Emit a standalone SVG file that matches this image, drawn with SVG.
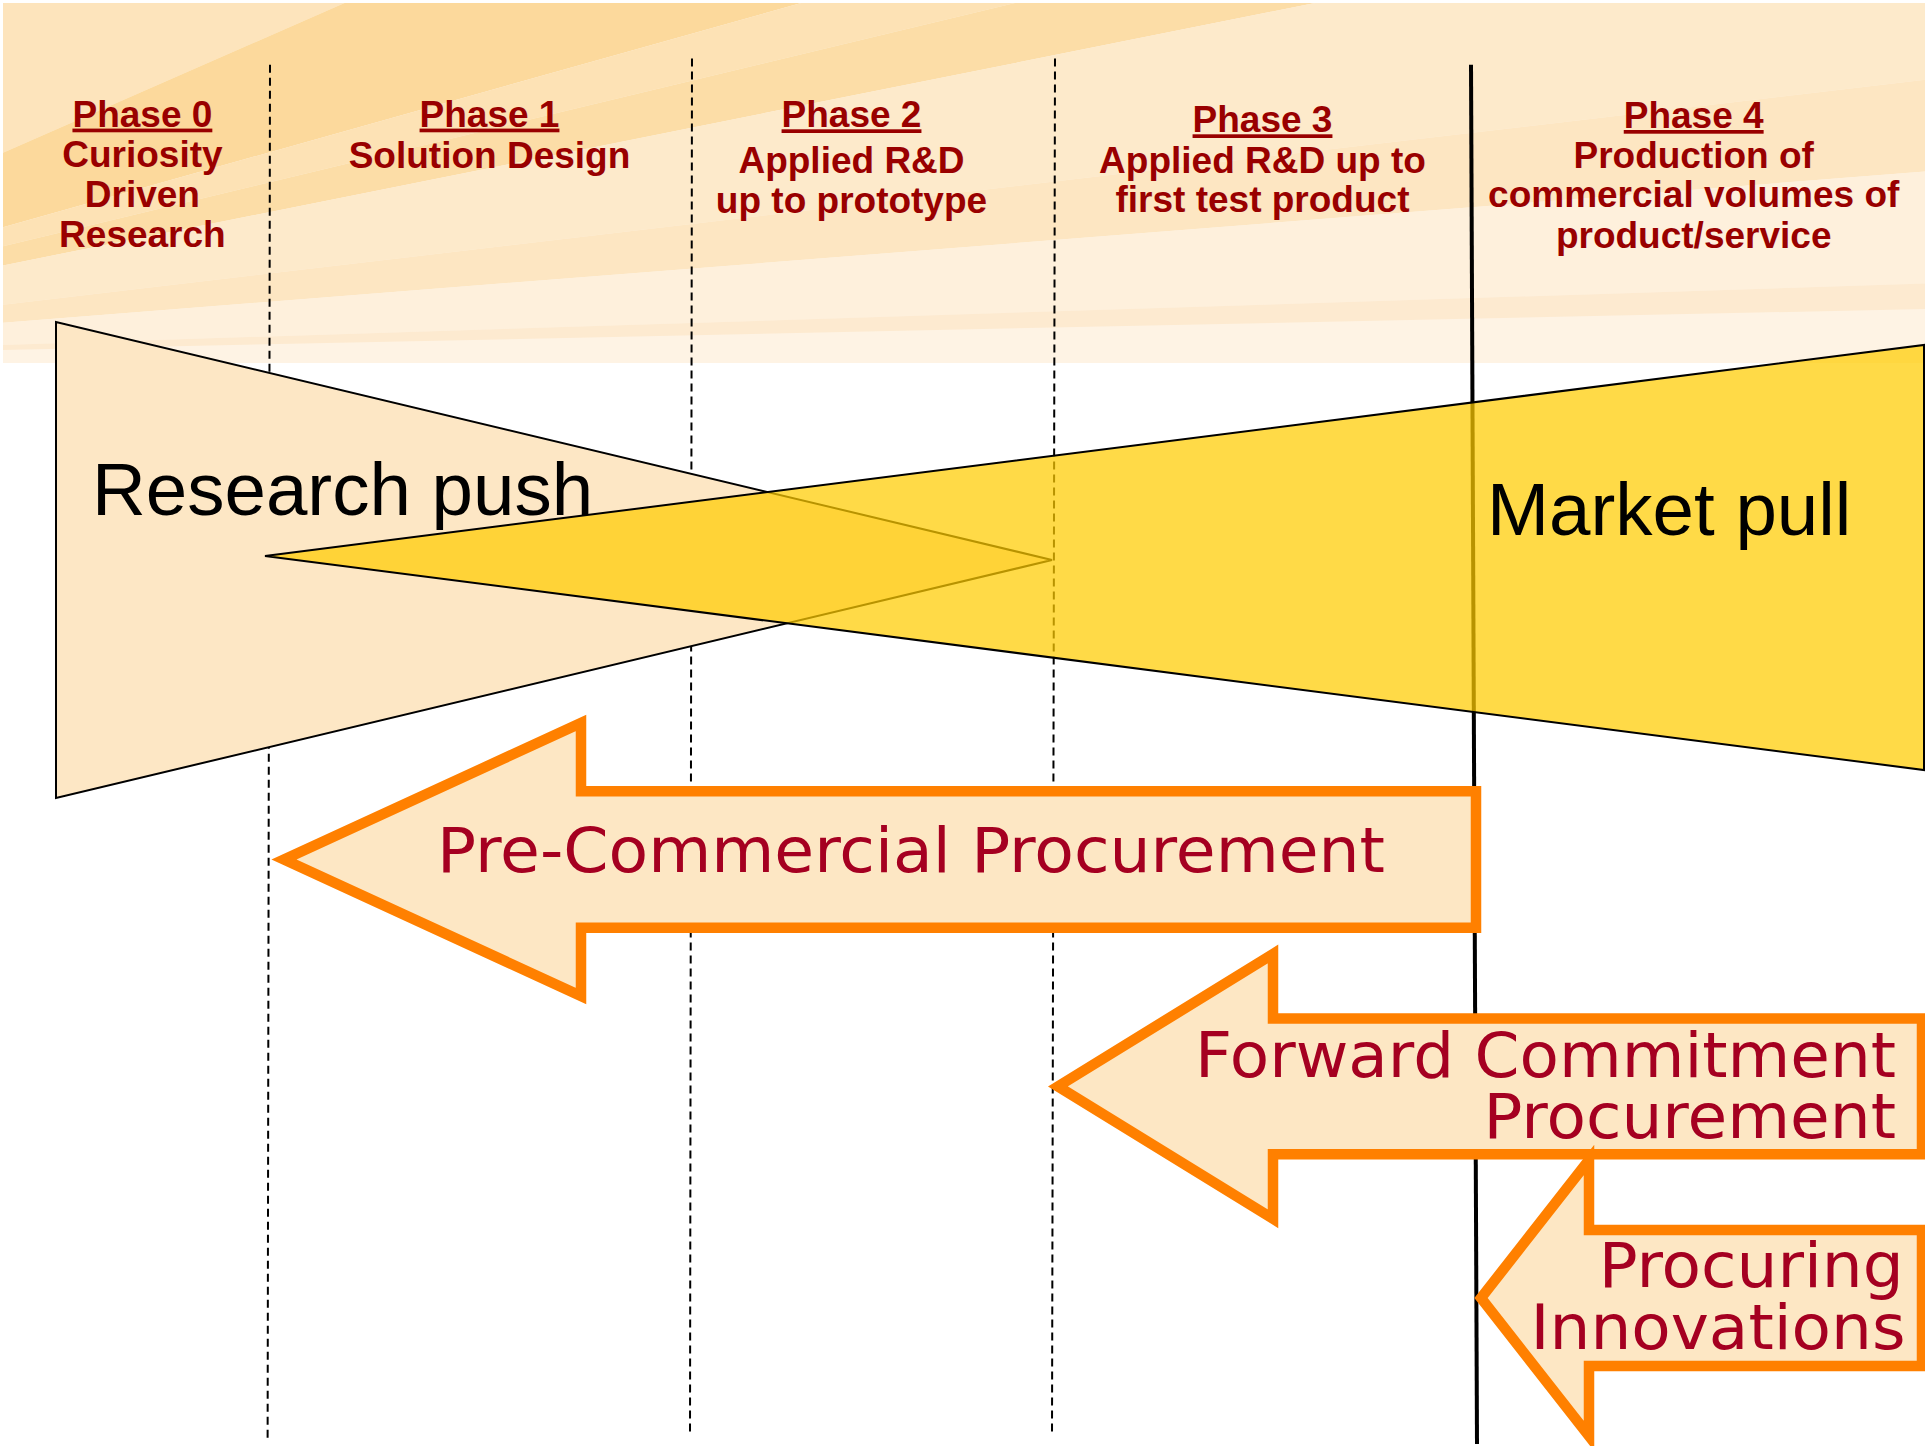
<svg xmlns="http://www.w3.org/2000/svg" width="1925" height="1446" viewBox="0 0 1925 1446">
<defs>
<style>
.ph{font-family:"Liberation Sans",Arial,sans-serif;font-weight:bold;font-size:37px;fill:#990000;text-anchor:middle}
.ul{text-decoration:underline}
.big{font-family:"Liberation Sans",Arial,sans-serif;font-size:74.5px;fill:#000000}
.arr{fill:#FDE7C4;stroke:#FF8000;stroke-width:10.5;stroke-linejoin:miter;stroke-miterlimit:10}
.at{font-family:"DejaVu Sans",Verdana,sans-serif;font-size:62px;fill:#A50021}
.dash{stroke:#000000;stroke-width:2;stroke-dasharray:8 5;fill:none}
.ray{stroke:none}
</style>
<clipPath id="bgclip"><rect x="3" y="3" width="1922" height="360"/></clipPath>
</defs>
<rect x="0" y="0" width="1925" height="1446" fill="#FFFFFF"/>
<g id="background" clip-path="url(#bgclip)">
<rect x="3" y="3" width="1922" height="360" fill="#FEF3E4"/>
<polygon class="ray" fill="#FDE4BC" points="-470,360 1925,-689.7 1925,-5000 -470,-5000"/>
<polygon class="ray" fill="#FCD99C" points="-470,360 1925,-689.7 1925,-312.6"/>
<polygon class="ray" fill="#FDE2B5" points="-470,360 1925,-312.6 1925,-215.8"/>
<polygon class="ray" fill="#FCDDA7" points="-470,360 1925,-215.8 1925,-119"/>
<polygon class="ray" fill="#FDEACB" points="-470,360 1925,-119 1925,79.7"/>
<polygon class="ray" fill="#FDE6C2" points="-470,360 1925,79.7 1925,171.5"/>
<polygon class="ray" fill="#FEF0DC" points="-470,360 1925,171.5 1925,283.6"/>
<polygon class="ray" fill="#FDEAD0" points="-470,360 1925,283.6 1925,309"/>
</g>
<g id="dividers">
<line class="dash" x1="270" y1="64.7" x2="267.6" y2="1442.5"/>
<line class="dash" x1="692" y1="58.6" x2="690" y2="1436"/>
<line class="dash" x1="1055" y1="58.6" x2="1052" y2="1436"/>
<line x1="1471" y1="64.7" x2="1477" y2="1444" stroke="#000000" stroke-width="4"/>
</g>
<g id="phase0">
<text class="ph ul" x="142.4" y="126.6">Phase 0</text>
<text class="ph" x="142.4" y="166.5">Curiosity</text>
<text class="ph" x="142.4" y="206.7">Driven</text>
<text class="ph" x="142.4" y="247">Research</text>
</g>
<g id="phase1">
<text class="ph ul" x="489.5" y="126.6">Phase 1</text>
<text class="ph" x="489.5" y="167.5">Solution Design</text>
</g>
<g id="phase2">
<text class="ph ul" x="851.5" y="127.3">Phase 2</text>
<text class="ph" x="851.5" y="172.5">Applied R&amp;D</text>
<text class="ph" x="851.5" y="213.4">up to prototype</text>
</g>
<g id="phase3">
<text class="ph ul" x="1262.5" y="132.3">Phase 3</text>
<text class="ph" x="1262.5" y="173">Applied R&amp;D up to</text>
<text class="ph" x="1262.5" y="211.7">first test product</text>
</g>
<g id="phase4">
<text class="ph ul" x="1693.7" y="128">Phase 4</text>
<text class="ph" x="1693.7" y="167.5">Production of</text>
<text class="ph" x="1693.7" y="206.7">commercial volumes of</text>
<text class="ph" x="1693.7" y="248">product/service</text>
</g>
<g id="research-push">
<polygon points="56,322 56,798 1052,560" fill="#FDE7C5" stroke="#000000" stroke-width="2"/>
</g>
<g id="market-pull">
<polygon points="1924,345 1924,770 265,556" fill="#FFCC00" fill-opacity="0.72" stroke="#000000" stroke-width="2"/>
<text class="big" x="1487" y="535">Market pull</text>
</g>
<g id="research-push-label">
<text class="big" x="92" y="515">Research push</text>
</g>
<g id="pre-commercial-procurement">
<path class="arr" d="M284,859.5 L581,723 L581,791.3 L1476,791.3 L1476,927.7 L581,927.7 L581,996 Z"/>
<text class="at" x="437" y="872.3" textLength="948" lengthAdjust="spacingAndGlyphs">Pre-Commercial Procurement</text>
</g>
<g id="forward-commitment-procurement">
<path class="arr" d="M1058,1086.4 L1273,954 L1273,1018.4 L1922,1018.4 L1922,1154.3 L1273,1154.3 L1273,1218.8 Z"/>
<text class="at"><tspan x="1195" y="1076.7" textLength="701" lengthAdjust="spacingAndGlyphs">Forward Commitment</tspan><tspan x="1483.5" y="1138" textLength="412.5" lengthAdjust="spacingAndGlyphs">Procurement</tspan></text>
</g>
<g id="procuring-innovations">
<path class="arr" d="M1481,1298 L1589,1160 L1589,1230 L1922,1230 L1922,1366 L1589,1366 L1589,1436 Z"/>
<text class="at"><tspan x="1598.7" y="1286.7" textLength="305" lengthAdjust="spacingAndGlyphs">Procuring</tspan><tspan x="1530.5" y="1349" textLength="375" lengthAdjust="spacingAndGlyphs">Innovations</tspan></text>
</g>
</svg>
